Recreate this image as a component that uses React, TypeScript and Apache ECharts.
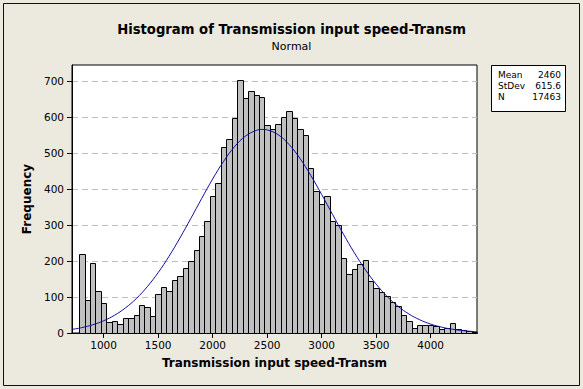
import React, { useEffect, useRef } from "react";
import * as echarts from "echarts";

// Histogram bins (midpoints, bin width 50) and frequencies
const binCenters = [
  800, 850, 900, 950, 1000, 1050, 1100, 1150, 1200, 1250, 1300, 1350, 1400, 1450,
  1500, 1550, 1600, 1650, 1700, 1750, 1800, 1850, 1900, 1950,
  2000, 2050, 2100, 2150, 2200, 2250, 2300, 2350, 2400, 2450,
  2500, 2550, 2600, 2650, 2700, 2750, 2800, 2850, 2900, 2950,
  3000, 3050, 3100, 3150, 3200, 3250, 3300, 3350, 3400, 3450,
  3500, 3550, 3600, 3650, 3700, 3750, 3800, 3850, 3900, 3950,
  4000, 4050, 4100, 4150, 4200, 4250, 4300, 4350, 4400,
];
const frequencies = [
  220, 93, 194, 118, 83, 31, 33, 25, 42, 42, 50, 78, 72, 47,
  108, 128, 118, 147, 158, 181, 200, 231, 269, 311,
  381, 417, 517, 539, 597, 703, 652, 672, 661, 656,
  578, 567, 581, 600, 617, 597, 567, 550, 458, 395,
  359, 381, 311, 300, 208, 164, 178, 192, 204, 144,
  125, 115, 102, 86, 74, 49, 32, 15, 23, 23,
  23, 19, 12, 14, 28, 12, 7, 5, 4,
];
const binWidth = 50;

// Fitted normal curve
const curveX = [
  710, 800, 900, 1000, 1100, 1200, 1300, 1400, 1500, 1600, 1700, 1800, 1900,
  2000, 2100, 2200, 2300, 2400, 2460, 2500, 2600, 2700, 2800, 2900, 3000, 3100,
  3200, 3300, 3400, 3500, 3600, 3700, 3800, 3900, 4000, 4100, 4200, 4300, 4400, 4425,
];
const curveY = [
  10, 14.9, 22.8, 34, 49.3, 69.7, 95.8, 128.5, 167.7, 213.3, 264.1, 318.5, 374.1,
  428, 476.9, 517.5, 547, 563.1, 565.8, 564.6, 551.4, 524.4, 485.8, 438.2, 385.1, 329.6,
  274.7, 223, 176.4, 135.8, 101.8, 74.4, 52.9, 36.7, 24.8, 16.3, 10.4, 6.5, 3.9, 3.5,
];

const xTicks = [1000, 1500, 2000, 2500, 3000, 3500, 4000];
const yTicks = [0, 100, 200, 300, 400, 500, 600, 700];

const statLabels = ["Mean", "StDev", "N"];
const statValues = ["2460", "615.6", "17463"];

const FONT = "DejaVu Sans";

export default function App() {
  const ref = useRef<HTMLDivElement>(null);

  useEffect(() => {
    document.body.style.margin = "0";
    if (!ref.current) return;
    const chart = echarts.init(ref.current, undefined, { renderer: "svg" });

    const histData = binCenters.map((c, i) => [c, frequencies[i]]);
    const curveData = curveX.map((x, i) => [x, curveY[i]]);

    const statGraphics: any[] = [];
    statLabels.forEach((l, i) => {
      statGraphics.push({
        type: "text",
        left: 498,
        top: 70 + i * 11.3,
        style: { text: l, font: `9px "${FONT}"`, fill: "#000" },
      });
      statGraphics.push({
        type: "text",
        right: 583 - 561,
        top: 70 + i * 11.3,
        style: { text: statValues[i], font: `9px "${FONT}"`, fill: "#000", textAlign: "right" },
      });
    });

    chart.setOption({
      animation: false,
      backgroundColor: "#ECE9DF",
      textStyle: { fontFamily: FONT },
      grid: {
        left: 72,
        right: 106,
        top: 65,
        bottom: 56,
        show: true,
        backgroundColor: "#ffffff",
        borderColor: "#000",
        borderWidth: 1,
      },
      xAxis: {
        type: "value",
        min: 710,
        max: 4425,
        name: "Transmission input speed-Transm",
        nameLocation: "middle",
        nameGap: 24,
        nameTextStyle: { fontFamily: FONT, fontWeight: "bold", fontSize: 12, color: "#000" },
        axisLine: { show: true, lineStyle: { color: "#000" } },
        axisTick: { show: true, length: 5, lineStyle: { color: "#000" }, customValues: xTicks },
        axisLabel: {
          fontFamily: FONT,
          fontSize: 10.5,
          color: "#000",
          margin: 6,
          customValues: xTicks,
          formatter: (v: number) => String(v),
        },
        splitLine: { show: false },
      },
      yAxis: {
        type: "value",
        min: 0,
        max: 745,
        interval: 100,
        name: "Frequency",
        nameLocation: "middle",
        nameGap: 36,
        nameRotate: 90,
        nameTextStyle: { fontFamily: FONT, fontWeight: "bold", fontSize: 12, color: "#000" },
        axisLine: { show: true, lineStyle: { color: "#000" } },
        axisTick: { show: true, length: 5, lineStyle: { color: "#000" }, customValues: yTicks },
        axisLabel: {
          fontFamily: FONT,
          fontSize: 10.5,
          color: "#000",
          margin: 8,
          customValues: yTicks,
          formatter: (v: number) => String(v),
        },
        splitLine: { show: true, lineStyle: { color: "#C0C0C0", type: [6, 4], width: 1 } },
      },
      graphic: [
        {
          type: "rect",
          shape: { x: 3.5, y: 3.5, width: 576, height: 382 },
          style: { fill: "none", stroke: "#111", lineWidth: 1 },
          silent: true,
        },
        {
          type: "text",
          left: "center",
          top: 23,
          style: {
            text: "Histogram of Transmission input speed-Transm",
            font: `bold 13.2px "${FONT}"`,
            fill: "#000",
          },
        },
        {
          type: "text",
          left: "center",
          top: 41,
          style: { text: "Normal", font: `11px "${FONT}"`, fill: "#000" },
        },
        {
          type: "rect",
          shape: { x: 491.5, y: 65.5, width: 74, height: 46 },
          style: { fill: "#fff", stroke: "#000", lineWidth: 1 },
        },
        ...statGraphics,
      ],
      series: [
        {
          type: "custom",
          name: "Frequency",
          data: histData,
          z: 2,
          renderItem: (params: any, api: any) => {
            const c = api.value(0);
            const v = api.value(1);
            const p0 = api.coord([c - binWidth / 2, 0]);
            const p1 = api.coord([c + binWidth / 2, v]);
            return {
              type: "rect",
              shape: {
                x: Math.round(p0[0]) + 0.5,
                y: Math.round(p1[1]) + 0.5,
                width: Math.round(p1[0]) - Math.round(p0[0]),
                height: Math.round(p0[1]) - Math.round(p1[1]),
              },
              style: { fill: "#C0C0C0", stroke: "#000", lineWidth: 1 },
            };
          },
        },
        {
          type: "line",
          name: "Normal",
          data: curveData,
          smooth: 0.4,
          showSymbol: false,
          z: 3,
          lineStyle: { color: "#1010A0", width: 1 },
        },
      ],
    });

    return () => chart.dispose();
  }, []);

  return <div ref={ref} style={{ width: 583, height: 389 }} />;
}
